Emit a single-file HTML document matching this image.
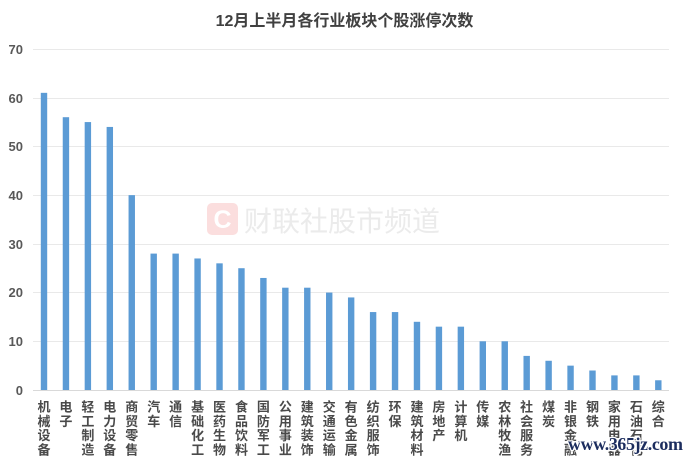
<!DOCTYPE html>
<html><head><meta charset="utf-8"><style>
html,body{margin:0;padding:0;background:#fff;}
svg{display:block;}
</style></head><body>
<svg width="692" height="460" xmlns="http://www.w3.org/2000/svg" font-family="'Liberation Sans','Noto Sans CJK SC',sans-serif">
<rect width="692" height="460" fill="#fff"/>
<text x="344.5" y="26" text-anchor="middle" font-size="16" font-weight="bold" fill="#404040">12月上半月各行业板块个股涨停次数</text>
<g stroke="#e9e9e9" stroke-width="1">
<line x1="33" x2="669" y1="49.5" y2="49.5"/>
<line x1="33" x2="669" y1="98.5" y2="98.5"/>
<line x1="33" x2="669" y1="146.5" y2="146.5"/>
<line x1="33" x2="669" y1="195.5" y2="195.5"/>
<line x1="33" x2="669" y1="244.5" y2="244.5"/>
<line x1="33" x2="669" y1="292.5" y2="292.5"/>
<line x1="33" x2="669" y1="341.5" y2="341.5"/>
</g>
<g font-size="13" font-weight="bold" fill="#595959" text-anchor="end">
<text x="23" y="54">70</text>
<text x="23" y="103">60</text>
<text x="23" y="151">50</text>
<text x="23" y="200">40</text>
<text x="23" y="249">30</text>
<text x="23" y="297">20</text>
<text x="23" y="346">10</text>
<text x="23" y="395">0</text>
</g>
<rect x="207" y="203" width="31" height="32" rx="5" fill="#fbdede"/>
<text x="222.5" y="228" text-anchor="middle" font-size="25" font-weight="bold" fill="#fff">C</text>
<text x="244" y="231" font-size="28" fill="#ebebeb">财联社股市频道</text>
<g fill="#5b9bd5">
<rect x="40.80" y="92.84" width="6.4" height="297.16"/>
<rect x="62.74" y="117.20" width="6.4" height="272.80"/>
<rect x="84.68" y="122.07" width="6.4" height="267.93"/>
<rect x="106.62" y="126.94" width="6.4" height="263.06"/>
<rect x="128.56" y="195.14" width="6.4" height="194.86"/>
<rect x="150.50" y="253.60" width="6.4" height="136.40"/>
<rect x="172.44" y="253.60" width="6.4" height="136.40"/>
<rect x="194.38" y="258.47" width="6.4" height="131.53"/>
<rect x="216.32" y="263.34" width="6.4" height="126.66"/>
<rect x="238.26" y="268.21" width="6.4" height="121.79"/>
<rect x="260.20" y="277.96" width="6.4" height="112.04"/>
<rect x="282.14" y="287.70" width="6.4" height="102.30"/>
<rect x="304.08" y="287.70" width="6.4" height="102.30"/>
<rect x="326.02" y="292.57" width="6.4" height="97.43"/>
<rect x="347.96" y="297.44" width="6.4" height="92.56"/>
<rect x="369.90" y="312.06" width="6.4" height="77.94"/>
<rect x="391.84" y="312.06" width="6.4" height="77.94"/>
<rect x="413.78" y="321.80" width="6.4" height="68.20"/>
<rect x="435.72" y="326.67" width="6.4" height="63.33"/>
<rect x="457.66" y="326.67" width="6.4" height="63.33"/>
<rect x="479.60" y="341.29" width="6.4" height="48.71"/>
<rect x="501.54" y="341.29" width="6.4" height="48.71"/>
<rect x="523.48" y="355.90" width="6.4" height="34.10"/>
<rect x="545.42" y="360.77" width="6.4" height="29.23"/>
<rect x="567.36" y="365.64" width="6.4" height="24.36"/>
<rect x="589.30" y="370.51" width="6.4" height="19.49"/>
<rect x="611.24" y="375.39" width="6.4" height="14.61"/>
<rect x="633.18" y="375.39" width="6.4" height="14.61"/>
<rect x="655.12" y="380.26" width="6.4" height="9.74"/>
</g>
<line x1="33" x2="669" y1="390.5" y2="390.5" stroke="#d9d9d9" stroke-width="1"/>
<g font-size="13" font-weight="bold" fill="#4a4a4a" text-anchor="middle">
<text><tspan x="44.00" y="411.5">机</tspan><tspan x="44.00" y="425.8">械</tspan><tspan x="44.00" y="440.1">设</tspan><tspan x="44.00" y="454.4">备</tspan></text>
<text><tspan x="65.94" y="411.5">电</tspan><tspan x="65.94" y="425.8">子</tspan></text>
<text><tspan x="87.88" y="411.5">轻</tspan><tspan x="87.88" y="425.8">工</tspan><tspan x="87.88" y="440.1">制</tspan><tspan x="87.88" y="454.4">造</tspan></text>
<text><tspan x="109.82" y="411.5">电</tspan><tspan x="109.82" y="425.8">力</tspan><tspan x="109.82" y="440.1">设</tspan><tspan x="109.82" y="454.4">备</tspan></text>
<text><tspan x="131.76" y="411.5">商</tspan><tspan x="131.76" y="425.8">贸</tspan><tspan x="131.76" y="440.1">零</tspan><tspan x="131.76" y="454.4">售</tspan></text>
<text><tspan x="153.70" y="411.5">汽</tspan><tspan x="153.70" y="425.8">车</tspan></text>
<text><tspan x="175.64" y="411.5">通</tspan><tspan x="175.64" y="425.8">信</tspan></text>
<text><tspan x="197.58" y="411.5">基</tspan><tspan x="197.58" y="425.8">础</tspan><tspan x="197.58" y="440.1">化</tspan><tspan x="197.58" y="454.4">工</tspan></text>
<text><tspan x="219.52" y="411.5">医</tspan><tspan x="219.52" y="425.8">药</tspan><tspan x="219.52" y="440.1">生</tspan><tspan x="219.52" y="454.4">物</tspan></text>
<text><tspan x="241.46" y="411.5">食</tspan><tspan x="241.46" y="425.8">品</tspan><tspan x="241.46" y="440.1">饮</tspan><tspan x="241.46" y="454.4">料</tspan></text>
<text><tspan x="263.40" y="411.5">国</tspan><tspan x="263.40" y="425.8">防</tspan><tspan x="263.40" y="440.1">军</tspan><tspan x="263.40" y="454.4">工</tspan></text>
<text><tspan x="285.34" y="411.5">公</tspan><tspan x="285.34" y="425.8">用</tspan><tspan x="285.34" y="440.1">事</tspan><tspan x="285.34" y="454.4">业</tspan></text>
<text><tspan x="307.28" y="411.5">建</tspan><tspan x="307.28" y="425.8">筑</tspan><tspan x="307.28" y="440.1">装</tspan><tspan x="307.28" y="454.4">饰</tspan></text>
<text><tspan x="329.22" y="411.5">交</tspan><tspan x="329.22" y="425.8">通</tspan><tspan x="329.22" y="440.1">运</tspan><tspan x="329.22" y="454.4">输</tspan></text>
<text><tspan x="351.16" y="411.5">有</tspan><tspan x="351.16" y="425.8">色</tspan><tspan x="351.16" y="440.1">金</tspan><tspan x="351.16" y="454.4">属</tspan></text>
<text><tspan x="373.10" y="411.5">纺</tspan><tspan x="373.10" y="425.8">织</tspan><tspan x="373.10" y="440.1">服</tspan><tspan x="373.10" y="454.4">饰</tspan></text>
<text><tspan x="395.04" y="411.5">环</tspan><tspan x="395.04" y="425.8">保</tspan></text>
<text><tspan x="416.98" y="411.5">建</tspan><tspan x="416.98" y="425.8">筑</tspan><tspan x="416.98" y="440.1">材</tspan><tspan x="416.98" y="454.4">料</tspan></text>
<text><tspan x="438.92" y="411.5">房</tspan><tspan x="438.92" y="425.8">地</tspan><tspan x="438.92" y="440.1">产</tspan></text>
<text><tspan x="460.86" y="411.5">计</tspan><tspan x="460.86" y="425.8">算</tspan><tspan x="460.86" y="440.1">机</tspan></text>
<text><tspan x="482.80" y="411.5">传</tspan><tspan x="482.80" y="425.8">媒</tspan></text>
<text><tspan x="504.74" y="411.5">农</tspan><tspan x="504.74" y="425.8">林</tspan><tspan x="504.74" y="440.1">牧</tspan><tspan x="504.74" y="454.4">渔</tspan></text>
<text><tspan x="526.68" y="411.5">社</tspan><tspan x="526.68" y="425.8">会</tspan><tspan x="526.68" y="440.1">服</tspan><tspan x="526.68" y="454.4">务</tspan></text>
<text><tspan x="548.62" y="411.5">煤</tspan><tspan x="548.62" y="425.8">炭</tspan></text>
<text><tspan x="570.56" y="411.5">非</tspan><tspan x="570.56" y="425.8">银</tspan><tspan x="570.56" y="440.1">金</tspan><tspan x="570.56" y="454.4">融</tspan></text>
<text><tspan x="592.50" y="411.5">钢</tspan><tspan x="592.50" y="425.8">铁</tspan></text>
<text><tspan x="614.44" y="411.5">家</tspan><tspan x="614.44" y="425.8">用</tspan><tspan x="614.44" y="440.1">电</tspan><tspan x="614.44" y="454.4">器</tspan></text>
<text><tspan x="636.38" y="411.5">石</tspan><tspan x="636.38" y="425.8">油</tspan><tspan x="636.38" y="440.1">石</tspan><tspan x="636.38" y="454.4">化</tspan></text>
<text><tspan x="658.32" y="411.5">综</tspan><tspan x="658.32" y="425.8">合</tspan></text>
</g>
<text x="568" y="450" font-family="'Liberation Serif',serif" font-size="18" font-weight="bold" fill="#1c2d5e" stroke="#fff" stroke-width="2.5" paint-order="stroke" textLength="115">www.365jz.com</text>
</svg>
</body></html>
